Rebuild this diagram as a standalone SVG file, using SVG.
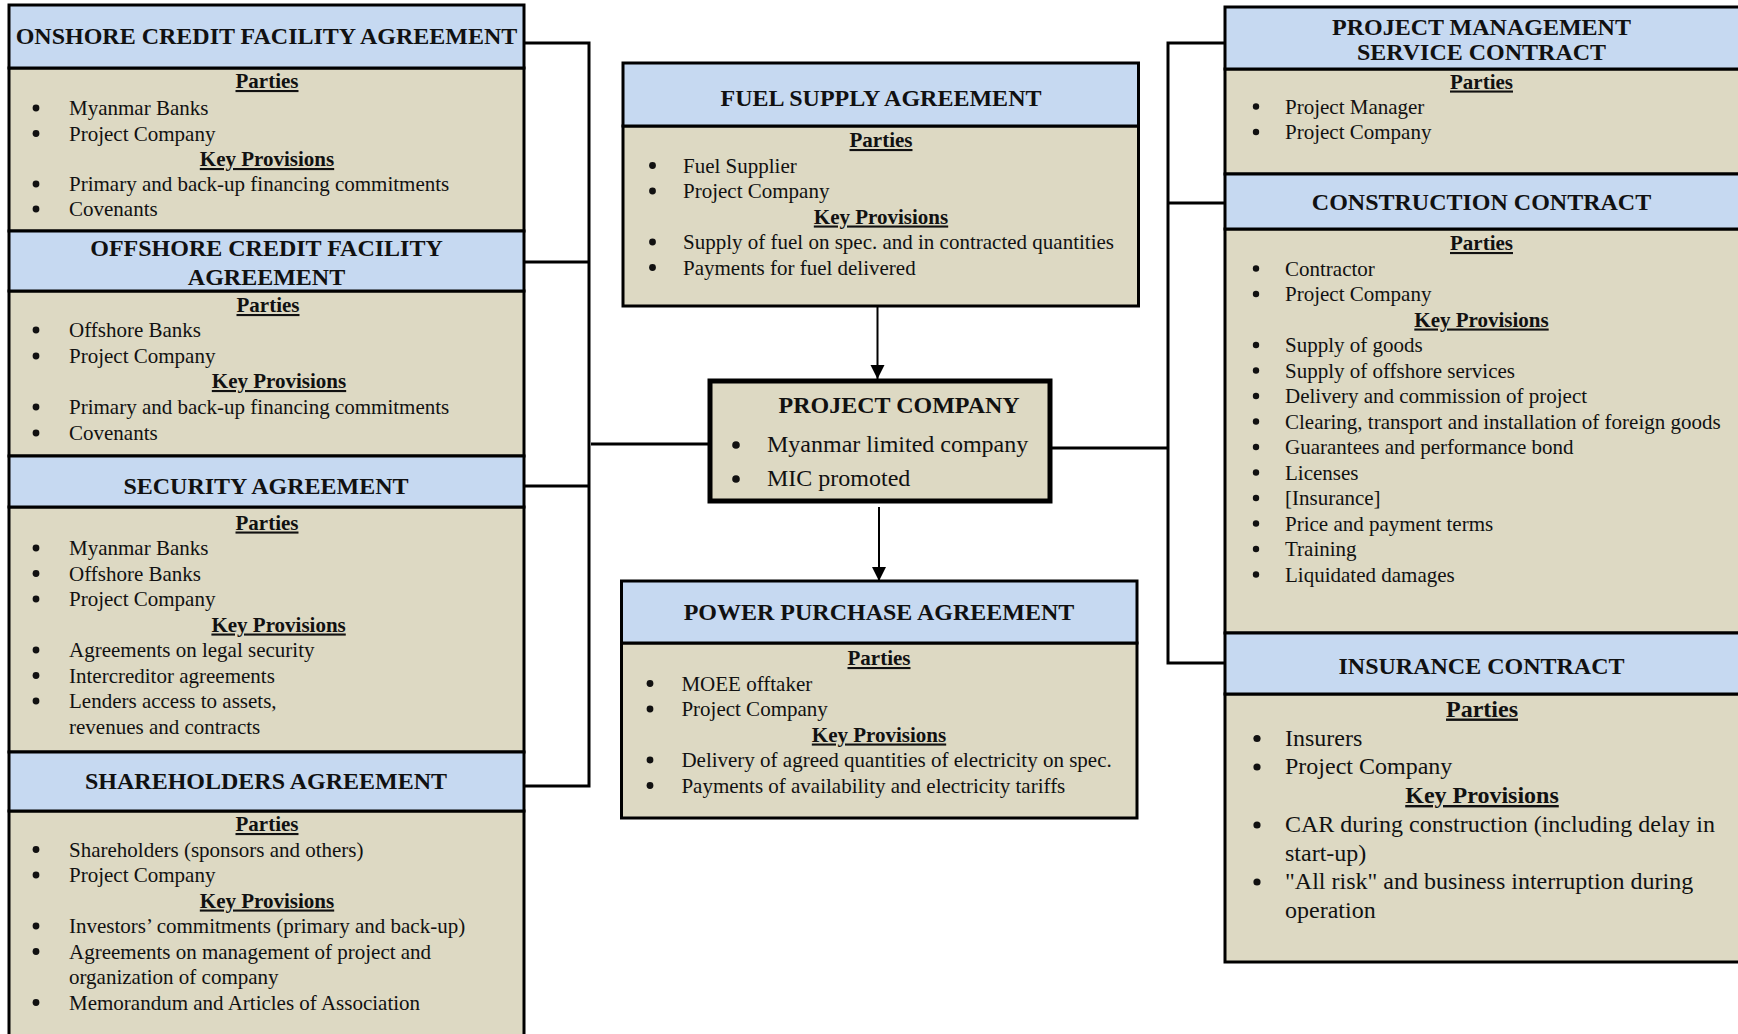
<svg xmlns="http://www.w3.org/2000/svg" width="1738" height="1034" viewBox="0 0 1738 1034">
<defs>
<style>
.hd{fill:#C6D9F1;stroke:#000;stroke-width:3}
.bd{fill:#DDD9C3;stroke:#000;stroke-width:3}
.pc{fill:#DDD9C3;stroke:#000;stroke-width:5}
.ln{fill:none;stroke:#000;stroke-width:3}
.ar{fill:none;stroke:#000;stroke-width:2}
.d{fill:#111}
text{font-family:"Liberation Serif","Times New Roman",serif;fill:#111}
.t{font-weight:bold;font-size:24px;text-anchor:middle}
.h{font-weight:bold;font-size:21px;text-anchor:middle;text-decoration:underline}
.hl{font-weight:bold;font-size:24px;text-anchor:middle;text-decoration:underline}
.b{font-size:21px}
.bb{font-size:24px}
</style>
<marker id="ah" markerUnits="userSpaceOnUse" markerWidth="14" markerHeight="16" refX="14" refY="7" orient="auto">
<path d="M0,0 L14,7 L0,14 Z" fill="#000"/>
</marker>
</defs>
<rect width="1738" height="1034" fill="#fff"/>

<g id="connectors">
<polyline class="ln" points="524,43 589,43 589,786 524,786"/>
<line class="ln" x1="524" y1="262" x2="589" y2="262"/>
<line class="ln" x1="524" y1="486" x2="589" y2="486"/>
<line class="ln" x1="591" y1="444" x2="708" y2="444"/>
<polyline class="ln" points="1225,43 1168,43 1168,663 1225,663"/>
<line class="ln" x1="1168" y1="203" x2="1225" y2="203"/>
<line class="ln" x1="1052" y1="448" x2="1168" y2="448"/>
<line class="ar" x1="877.5" y1="306" x2="877.5" y2="379" marker-end="url(#ah)"/>
<line class="ar" x1="879" y1="507" x2="879" y2="581" marker-end="url(#ah)"/>
</g>

<g id="onshore">
<rect class="bd" x="9" y="68" width="515" height="163"/>
<rect class="hd" x="9" y="5" width="515" height="63"/>
<text class="t" x="266.5" y="44">ONSHORE CREDIT FACILITY AGREEMENT</text>
<text class="h" x="267" y="88">Parties</text>
<circle class="d" cx="36" cy="108" r="3.4"/><text class="b" x="69" y="115">Myanmar Banks</text>
<circle class="d" cx="36" cy="133.5" r="3.4"/><text class="b" x="69" y="140.5">Project Company</text>
<text class="h" x="267" y="166">Key Provisions</text>
<circle class="d" cx="36" cy="184" r="3.4"/><text class="b" x="69" y="191">Primary and back-up financing commitments</text>
<circle class="d" cx="36" cy="209" r="3.4"/><text class="b" x="69" y="216">Covenants</text>
</g>

<g id="offshore">
<rect class="bd" x="9" y="291" width="515" height="165"/>
<rect class="hd" x="9" y="231" width="515" height="60"/>
<text class="t" x="266.5" y="256">OFFSHORE CREDIT FACILITY</text>
<text class="t" x="266.5" y="285">AGREEMENT</text>
<text class="h" x="268" y="312">Parties</text>
<circle class="d" cx="36" cy="330" r="3.4"/><text class="b" x="69" y="337">Offshore Banks</text>
<circle class="d" cx="36" cy="356" r="3.4"/><text class="b" x="69" y="363">Project Company</text>
<text class="h" x="279" y="388">Key Provisions</text>
<circle class="d" cx="36" cy="407" r="3.4"/><text class="b" x="69" y="414">Primary and back-up financing commitments</text>
<circle class="d" cx="36" cy="433" r="3.4"/><text class="b" x="69" y="440">Covenants</text>
</g>

<g id="security">
<rect class="bd" x="9" y="507" width="515" height="245"/>
<rect class="hd" x="9" y="456" width="515" height="51"/>
<text class="t" x="266" y="494">SECURITY AGREEMENT</text>
<text class="h" x="267" y="529.5">Parties</text>
<circle class="d" cx="36" cy="548" r="3.4"/><text class="b" x="69" y="555">Myanmar Banks</text>
<circle class="d" cx="36" cy="573.5" r="3.4"/><text class="b" x="69" y="580.5">Offshore Banks</text>
<circle class="d" cx="36" cy="599" r="3.4"/><text class="b" x="69" y="606">Project Company</text>
<text class="h" x="278.6" y="631.5">Key Provisions</text>
<circle class="d" cx="36" cy="650" r="3.4"/><text class="b" x="69" y="657">Agreements on legal security</text>
<circle class="d" cx="36" cy="675.5" r="3.4"/><text class="b" x="69" y="682.5">Intercreditor agreements</text>
<circle class="d" cx="36" cy="701" r="3.4"/><text class="b" x="69" y="708">Lenders access to assets,</text>
<text class="b" x="69" y="733.5">revenues and contracts</text>
</g>

<g id="shareholders">
<rect class="bd" x="9" y="811" width="515" height="235"/>
<rect class="hd" x="9" y="752" width="515" height="59"/>
<text class="t" x="266" y="789">SHAREHOLDERS AGREEMENT</text>
<text class="h" x="267" y="831">Parties</text>
<circle class="d" cx="36" cy="849.5" r="3.4"/><text class="b" x="69" y="856.5">Shareholders (sponsors and others)</text>
<circle class="d" cx="36" cy="875" r="3.4"/><text class="b" x="69" y="882">Project Company</text>
<text class="h" x="267" y="907.5">Key Provisions</text>
<circle class="d" cx="36" cy="926" r="3.4"/><text class="b" x="69" y="933">Investors’ commitments (primary and back-up)</text>
<circle class="d" cx="36" cy="951.5" r="3.4"/><text class="b" x="69" y="958.5">Agreements on management of project and</text>
<text class="b" x="69" y="984">organization of company</text>
<circle class="d" cx="36" cy="1002.5" r="3.4"/><text class="b" x="69" y="1009.5">Memorandum and Articles of Association</text>
</g>

<g id="fuel-supply">
<rect class="bd" x="623" y="126" width="515.5" height="180"/>
<rect class="hd" x="623" y="63" width="515.5" height="63"/>
<text class="t" x="881" y="106">FUEL SUPPLY AGREEMENT</text>
<text class="h" x="881" y="147">Parties</text>
<circle class="d" cx="652.5" cy="165.5" r="3.4"/><text class="b" x="683" y="172.5">Fuel Supplier</text>
<circle class="d" cx="652.5" cy="191" r="3.4"/><text class="b" x="683" y="198">Project Company</text>
<text class="h" x="881" y="223.5">Key Provisions</text>
<circle class="d" cx="652.5" cy="242" r="3.4"/><text class="b" x="683" y="249">Supply of fuel on spec. and in contracted quantities</text>
<circle class="d" cx="652.5" cy="267.5" r="3.4"/><text class="b" x="683" y="274.5">Payments for fuel delivered</text>
</g>

<g id="project-company">
<rect class="pc" x="710" y="381" width="340" height="120"/>
<text class="t" x="778.6" y="413" style="text-anchor:start">PROJECT COMPANY</text>
<circle class="d" cx="736" cy="445" r="3.8"/><text class="bb" x="767" y="452">Myanmar limited company</text>
<circle class="d" cx="736" cy="479" r="3.8"/><text class="bb" x="767" y="486">MIC promoted</text>
</g>

<g id="power-purchase">
<rect class="bd" x="621.5" y="643" width="515.5" height="175"/>
<rect class="hd" x="621.5" y="581" width="515.5" height="62"/>
<text class="t" x="879" y="620">POWER PURCHASE AGREEMENT</text>
<text class="h" x="879" y="665">Parties</text>
<circle class="d" cx="650" cy="683.5" r="3.4"/><text class="b" x="681.4" y="690.5">MOEE offtaker</text>
<circle class="d" cx="650" cy="709" r="3.4"/><text class="b" x="681.4" y="716">Project Company</text>
<text class="h" x="879" y="741.5">Key Provisions</text>
<circle class="d" cx="650" cy="760" r="3.4"/><text class="b" x="681.4" y="767">Delivery of agreed quantities of electricity on spec.</text>
<circle class="d" cx="650" cy="785.5" r="3.4"/><text class="b" x="681.4" y="792.5">Payments of availability and electricity tariffs</text>
</g>

<g id="pm-service">
<rect class="bd" x="1225" y="69" width="520" height="105"/>
<rect class="hd" x="1225" y="7" width="520" height="62"/>
<text class="t" x="1481.5" y="34.5">PROJECT MANAGEMENT</text>
<text class="t" x="1481.5" y="60">SERVICE CONTRACT</text>
<text class="h" x="1481.5" y="88.5">Parties</text>
<circle class="d" cx="1256" cy="106.5" r="3.2"/><text class="b" x="1285" y="113.5">Project Manager</text>
<circle class="d" cx="1256" cy="132" r="3.2"/><text class="b" x="1285" y="139">Project Company</text>
</g>

<g id="construction">
<rect class="bd" x="1225" y="229" width="520" height="404"/>
<rect class="hd" x="1225" y="174" width="520" height="55"/>
<text class="t" x="1481.5" y="210">CONSTRUCTION CONTRACT</text>
<text class="h" x="1481.5" y="250">Parties</text>
<circle class="d" cx="1256" cy="268.5" r="3.2"/><text class="b" x="1285" y="275.5">Contractor</text>
<circle class="d" cx="1256" cy="294" r="3.2"/><text class="b" x="1285" y="301">Project Company</text>
<text class="h" x="1481.5" y="326.5">Key Provisions</text>
<circle class="d" cx="1256" cy="345" r="3.2"/><text class="b" x="1285" y="352">Supply of goods</text>
<circle class="d" cx="1256" cy="370.5" r="3.2"/><text class="b" x="1285" y="377.5">Supply of offshore services</text>
<circle class="d" cx="1256" cy="396" r="3.2"/><text class="b" x="1285" y="403">Delivery and commission of project</text>
<circle class="d" cx="1256" cy="421.5" r="3.2"/><text class="b" x="1285" y="428.5">Clearing, transport and installation of foreign goods</text>
<circle class="d" cx="1256" cy="447" r="3.2"/><text class="b" x="1285" y="454">Guarantees and performance bond</text>
<circle class="d" cx="1256" cy="472.5" r="3.2"/><text class="b" x="1285" y="479.5">Licenses</text>
<circle class="d" cx="1256" cy="498" r="3.2"/><text class="b" x="1285" y="505">[Insurance]</text>
<circle class="d" cx="1256" cy="523.5" r="3.2"/><text class="b" x="1285" y="530.5">Price and payment terms</text>
<circle class="d" cx="1256" cy="549" r="3.2"/><text class="b" x="1285" y="556">Training</text>
<circle class="d" cx="1256" cy="574.5" r="3.2"/><text class="b" x="1285" y="581.5">Liquidated damages</text>
</g>

<g id="insurance">
<rect class="bd" x="1225" y="694" width="520" height="268"/>
<rect class="hd" x="1225" y="633" width="520" height="61"/>
<text class="t" x="1481.5" y="674">INSURANCE CONTRACT</text>
<text class="hl" x="1482" y="716.5">Parties</text>
<circle class="d" cx="1257" cy="738.5" r="3.6"/><text class="bb" x="1285" y="745.5">Insurers</text>
<circle class="d" cx="1257" cy="767" r="3.6"/><text class="bb" x="1285" y="774">Project Company</text>
<text class="hl" x="1482" y="803">Key Provisions</text>
<circle class="d" cx="1257" cy="825" r="3.6"/><text class="bb" x="1285" y="832">CAR during construction (including delay in</text>
<text class="bb" x="1285" y="860.5">start-up)</text>
<circle class="d" cx="1257" cy="882" r="3.6"/><text class="bb" x="1285" y="889">"All risk" and business interruption during</text>
<text class="bb" x="1285" y="917.5">operation</text>
</g>
</svg>
